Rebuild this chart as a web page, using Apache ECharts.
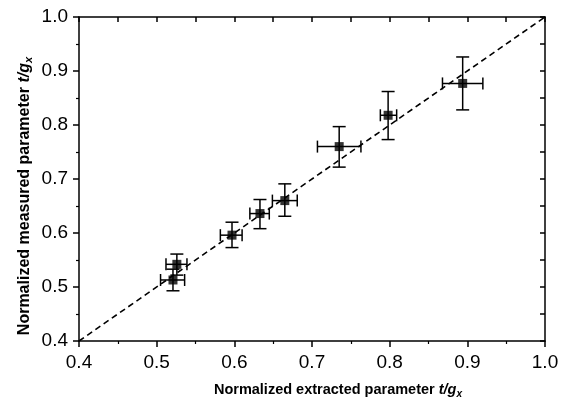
<!DOCTYPE html>
<html>
<head>
<meta charset="utf-8">
<script src="https://cdn.jsdelivr.net/npm/echarts@6/dist/echarts.min.js"></script>
<style>
html,body{margin:0;padding:0;background:#fff;}
#chart{width:571px;height:409px;}
</style>
</head>
<body>
<div id="chart"></div>
<script>
// Data
var extracted = [0.521, 0.526, 0.597, 0.633, 0.665, 0.735, 0.798, 0.894];
var measured  = [0.513, 0.542, 0.596, 0.636, 0.660, 0.760, 0.818, 0.877];
var extractedLow  = [0.505, 0.512, 0.582, 0.620, 0.649, 0.707, 0.788, 0.868];
var extractedHigh = [0.536, 0.539, 0.610, 0.645, 0.681, 0.763, 0.809, 0.920];
var measuredLow   = [0.493, 0.522, 0.573, 0.608, 0.631, 0.722, 0.773, 0.828];
var measuredHigh  = [0.533, 0.561, 0.620, 0.662, 0.691, 0.797, 0.862, 0.926];
var idealLine = [[0.4, 0.4], [1.0, 1.0]];
var axisMin = 0.4, axisMax = 1.0, axisStep = 0.1;

var points = extracted.map(function (x, i) { return [x, measured[i]]; });
var errData = extracted.map(function (x, i) {
  return [x, measured[i], extractedLow[i], extractedHigh[i], measuredLow[i], measuredHigh[i]];
});

var chart = echarts.init(document.getElementById('chart'), null, {renderer: 'canvas'});
var FONT = '"Liberation Sans", Arial, Helvetica, sans-serif';
var lineStyle = {color: '#000', width: 1.5};

function mainAxis(pos) {
  return {
    type: 'value', position: pos, min: axisMin, max: axisMax, interval: axisStep,
    axisLine: {show: true, onZero: false, lineStyle: lineStyle},
    axisTick: {show: true, inside: false, length: 6, lineStyle: lineStyle},
    minorTick: {show: true, splitNumber: 2, length: 3, lineStyle: {color: '#000', width: 1.2}},
    splitLine: {show: false},
    axisLabel: {color: '#000', fontFamily: FONT, fontSize: 19, margin: pos === 'left' ? 11 : 12,
      formatter: function (v) { return v.toFixed(1); }}
  };
}
function frameAxis(pos) {
  return {
    type: 'value', position: pos, min: axisMin, max: axisMax, interval: axisStep / 2,
    axisLine: {show: true, onZero: false, lineStyle: lineStyle},
    axisTick: {show: true, inside: true, length: 5, lineStyle: lineStyle},
    splitLine: {show: false},
    axisLabel: {show: false}
  };
}
function titleRich(size) {
  return {
    b: {fontFamily: FONT, fontWeight: 'bold', fontSize: size, fill: '#000'},
    i: {fontFamily: FONT, fontWeight: 'bold', fontStyle: 'italic', fontSize: size, fill: '#000'},
    s: {fontFamily: FONT, fontWeight: 'bold', fontStyle: 'italic', fontSize: size * 0.7, fill: '#000', padding: [size * 0.55, 0, 0, 0]}
  };
}

var option = {
  backgroundColor: '#fff',
  animation: false,
  grid: {left: 79, right: 26, top: 17, bottom: 68, containLabel: false},
  xAxis: [mainAxis('bottom'), frameAxis('top')],
  yAxis: [mainAxis('left'), frameAxis('right')],
  graphic: [
    {
      type: 'text', x: 338, y: 390,
      style: {
        text: '{b|Normalized extracted parameter }{i|t/g}{s|x}',
        textAlign: 'center', textVerticalAlign: 'middle',
        rich: titleRich(14.5)
      }
    },
    {
      type: 'text', x: 25, y: 196, rotation: Math.PI / 2,
      style: {
        text: '{b|Normalized measured parameter }{i|t/g}{s|x}',
        textAlign: 'center', textVerticalAlign: 'middle',
        rich: titleRich(16)
      }
    }
  ],
  series: [
    {
      type: 'line', data: idealLine, symbol: 'none', silent: true,
      lineStyle: {color: '#000', width: 1.6, type: [6, 4]}, z: 1
    },
    {
      type: 'custom', data: errData, z: 2,
      renderItem: function (params, api) {
        var c = api.coord([api.value(0), api.value(1)]);
        var xl = api.coord([api.value(2), api.value(1)]);
        var xh = api.coord([api.value(3), api.value(1)]);
        var yl = api.coord([api.value(0), api.value(4)]);
        var yh = api.coord([api.value(0), api.value(5)]);
        var cw = 6.5, ch = 6;
        var st = {stroke: '#000', lineWidth: 1.5, fill: null};
        function ln(x1, y1, x2, y2) { return {type: 'line', shape: {x1: x1, y1: y1, x2: x2, y2: y2}, style: st}; }
        return {type: 'group', children: [
          ln(xl[0], c[1], xh[0], c[1]),
          ln(xl[0], c[1] - ch, xl[0], c[1] + ch),
          ln(xh[0], c[1] - ch, xh[0], c[1] + ch),
          ln(c[0], yl[1], c[0], yh[1]),
          ln(c[0] - cw, yl[1], c[0] + cw, yl[1]),
          ln(c[0] - cw, yh[1], c[0] + cw, yh[1])
        ]};
      }
    },
    {
      type: 'scatter', data: points, symbol: 'rect', symbolSize: 9, z: 3,
      itemStyle: {color: '#000'}
    }
  ]
};
chart.setOption(option);
</script>
</body>
</html>
